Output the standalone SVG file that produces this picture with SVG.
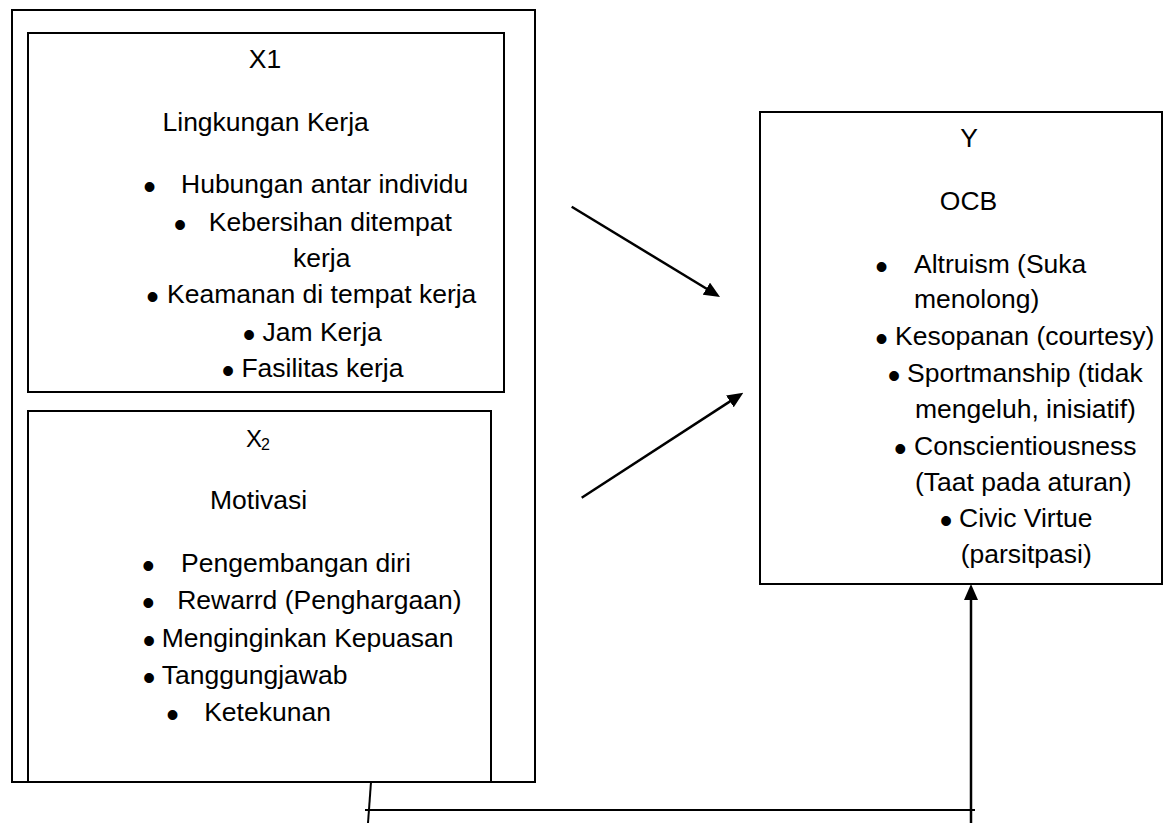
<svg xmlns="http://www.w3.org/2000/svg" width="1163" height="823" viewBox="0 0 1163 823">
<style>
  .box { fill: none; stroke: #000; stroke-width: 2; }
  .t { font-family: "Liberation Sans", Arial, sans-serif; font-size: 26.5px; fill: #000; }
  .b { font-family: "Liberation Sans", Arial, sans-serif; font-size: 36px; fill: #000; }
  .c { text-anchor: middle; }
  .conn { stroke: #000; stroke-width: 2.5; fill: none; }
  .thin { stroke: #000; stroke-width: 2; fill: none; }
</style>
<defs>
  <marker id="ah" markerUnits="userSpaceOnUse" markerWidth="16" markerHeight="14" refX="8" refY="7" orient="auto">
    <path d="M0,0 L16,7 L0,14 z" fill="#000"/>
  </marker>
</defs>
<rect width="1163" height="823" fill="#fff"/>

<g id="outer">
  <rect class="box" x="12" y="10" width="523" height="772"/>
</g>

<g id="x1">
  <rect class="box" x="28" y="33" width="476" height="359"/>
  <text class="t c" x="265" y="68">X1</text>
  <text class="t" x="162.5" y="131">Lingkungan Kerja</text>
  <text class="b" x="143.2" y="198.8">•</text>
  <text class="t" x="181" y="193">Hubungan antar individu</text>
  <text class="b" x="173.7" y="236.8">•</text>
  <text class="t" x="208.8" y="231">Kebersihan ditempat</text>
  <text class="t" x="293" y="267">kerja</text>
  <text class="b" x="146.3" y="308.8">•</text>
  <text class="t" x="167" y="303">Keamanan di tempat kerja</text>
  <text class="b" x="242.7" y="346.8">•</text>
  <text class="t" x="262.5" y="341">Jam Kerja</text>
  <text class="b" x="221.7" y="382.8">•</text>
  <text class="t" x="241.4" y="377">Fasilitas kerja</text>
</g>

<g id="x2">
  <rect class="box" x="28" y="411" width="463" height="371"/>
  <text class="t" x="246" y="447" style="font-size:24px">X<tspan x="261" y="450" style="font-size:16px">2</tspan></text>
  <text class="t" x="210" y="509">Motivasi</text>
  <text class="b" x="142.1" y="577.8">•</text>
  <text class="t" x="181" y="572">Pengembangan diri</text>
  <text class="b" x="142.1" y="614.8">•</text>
  <text class="t" x="177.2" y="609">Rewarrd (Penghargaan)</text>
  <text class="b" x="142.7" y="652.8">•</text>
  <text class="t" x="161.8" y="647">Menginginkan Kepuasan</text>
  <text class="b" x="142.7" y="689.8">•</text>
  <text class="t" x="161.8" y="684">Tanggungjawab</text>
  <text class="b" x="166.3" y="726.8">•</text>
  <text class="t" x="204.2" y="721">Ketekunan</text>
</g>

<g id="y">
  <rect class="box" x="760" y="112" width="402" height="472"/>
  <text class="t c" x="969" y="147">Y</text>
  <text class="t c" x="968.5" y="210">OCB</text>
  <text class="b" x="875.2" y="278.8">•</text>
  <text class="t" x="914" y="273">Altruism (Suka</text>
  <text class="t" x="914" y="308">menolong)</text>
  <text class="b" x="875.2" y="350.8">•</text>
  <text class="t" x="895" y="345">Kesopanan (courtesy)</text>
  <text class="b" x="887.7" y="387.8">•</text>
  <text class="t" x="907" y="382">Sportmanship (tidak</text>
  <text class="t" x="915" y="418">mengeluh, inisiatif)</text>
  <text class="b" x="894" y="460.8">•</text>
  <text class="t" x="914" y="455">Conscientiousness</text>
  <text class="t" x="915" y="491">(Taat pada aturan)</text>
  <text class="b" x="939.7" y="532.8">•</text>
  <text class="t" x="959" y="527">Civic Virtue</text>
  <text class="t" x="960.7" y="563">(parsitpasi)</text>
</g>

<g id="connectors">
  <line class="conn" x1="571.7" y1="206.7" x2="713.2" y2="292.8" marker-end="url(#ah)"/>
  <line class="conn" x1="581.7" y1="497.7" x2="736.6" y2="397.1" marker-end="url(#ah)"/>
  <line class="conn" x1="971" y1="823" x2="971" y2="592" marker-end="url(#ah)"/>
  <line class="thin" x1="371" y1="782" x2="368" y2="823"/>
  <line class="thin" x1="365" y1="810" x2="975" y2="810"/>
</g>
</svg>
